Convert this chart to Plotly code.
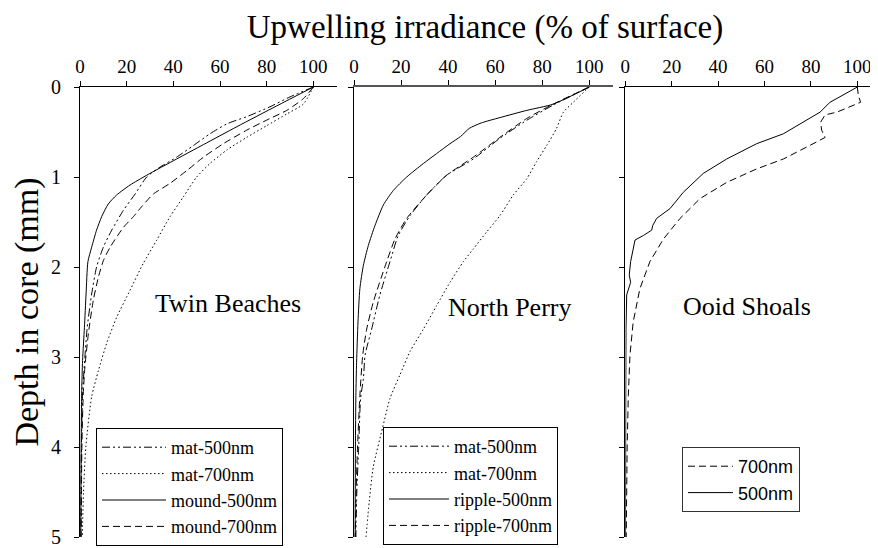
import plotly.graph_objects as go

# ---------------- data ----------------
# Twin Beaches
tb_mat500_x = [100, 90, 81.4, 71.4, 62.9, 55.7, 48.6, 41.4, 34.3, 28.6, 23.6, 18.6, 13.6, 10, 7.1, 5, 3.1, 2.0, 1.1, 0.6, 0.4]
tb_mat500_d = [0, 0.11, 0.22, 0.33, 0.41, 0.52, 0.65, 0.78, 0.89, 1.0, 1.19, 1.37, 1.59, 1.78, 2.0, 2.3, 2.67, 3.04, 3.41, 4.0, 5.0]

tb_mat700_x = [100, 95.7, 88.6, 80, 71.4, 62.9, 55.7, 50, 44.3, 38.6, 32.9, 27.1, 21.4, 15.7, 11.4, 7.9, 5, 2.5, 1.5, 1.0]
tb_mat700_d = [0, 0.19, 0.30, 0.43, 0.56, 0.70, 0.85, 1.0, 1.22, 1.44, 1.70, 1.96, 2.26, 2.56, 2.85, 3.15, 3.44, 4.0, 4.5, 5.0]

tb_mound500_x = [100, 84.3, 67.3, 52.9, 41.4, 28.6, 21.4, 15.7, 12.1, 9.3, 7.1, 5.0, 3.4, 2.6, 1.9, 1.1, 0.7, 0.5, 0.4, 0.3]
tb_mound500_d = [0, 0.21, 0.44, 0.64, 0.80, 0.98, 1.09, 1.20, 1.30, 1.44, 1.59, 1.78, 1.94, 2.30, 2.67, 3.04, 3.41, 4.0, 4.5, 5.0]

tb_mound700_x = [100, 95.7, 88.6, 81.4, 71.4, 61.4, 52.9, 45.7, 38.6, 31.4, 26.4, 22.9, 18.6, 12.9, 10, 7.9, 5.7, 3.6, 2.1, 1.4, 0.8, 0.5]
tb_mound700_d = [0, 0.13, 0.26, 0.35, 0.48, 0.63, 0.78, 0.93, 1.07, 1.19, 1.33, 1.44, 1.56, 1.78, 1.93, 2.11, 2.37, 2.74, 3.11, 3.41, 4.0, 5.0]

# North Perry
np_mat500_x = [100, 84.7, 73.4, 62, 50.7, 39.4, 30.9, 23.8, 18.8, 15.3, 11.0, 7.5, 4.7, 4.0, 2.8, 2.0, 1.2, 0.8]
np_mat500_d = [0, 0.20, 0.37, 0.57, 0.80, 0.98, 1.20, 1.43, 1.65, 1.94, 2.31, 2.69, 2.98, 3.24, 3.46, 4.0, 4.5, 5.0]

np_mat700_x = [100, 93.2, 89, 86.1, 81.9, 77.6, 73.4, 67.7, 62, 56.4, 50.7, 46.5, 40.8, 35.1, 29.5, 23.8, 19.5, 15.3, 12.2, 8.2, 6.5, 5.1]
np_mat700_d = [0, 0.17, 0.28, 0.46, 0.65, 0.83, 1.02, 1.20, 1.43, 1.61, 1.80, 1.94, 2.17, 2.43, 2.69, 2.94, 3.20, 3.46, 3.78, 4.22, 4.6, 5.0]

np_ripple500_x = [100, 84.7, 73.4, 62.0, 54.0, 49.0, 45.3, 40.8, 35.1, 29.5, 22.4, 16.7, 12.5, 8.9, 6.1, 4.0, 2.5, 1.7, 1.1, 0.8, 0.6, 0.5]
np_ripple500_d = [0, 0.19, 0.26, 0.34, 0.40, 0.46, 0.55, 0.63, 0.74, 0.85, 1.0, 1.15, 1.31, 1.54, 1.76, 1.98, 2.24, 2.61, 3.06, 3.43, 4.0, 5.0]

np_ripple700_x = [100, 84.7, 73.4, 62, 50.7, 39.4, 30.9, 22.4, 17.4, 13.9, 8.2, 5.4, 3.7, 2.5, 1.5, 0.9, 0.5]
np_ripple700_d = [0, 0.19, 0.35, 0.56, 0.78, 0.98, 1.20, 1.46, 1.69, 1.94, 2.39, 2.69, 2.98, 3.43, 4.0, 4.5, 5.0]

# Ooid Shoals
os_700_x = [100, 100.4, 101.4, 96.8, 91.1, 86.1, 84.2, 84.6, 86.1, 82.5, 76.7, 68.1, 56.6, 43.7, 32.2, 23.6, 16.4, 10.6, 6.3, 3.4, 2.0, 1.3, 0.8, 0.5, 0.4]
os_700_d = [0, 0.09, 0.17, 0.22, 0.28, 0.31, 0.39, 0.48, 0.56, 0.61, 0.69, 0.80, 0.91, 1.06, 1.24, 1.46, 1.69, 1.94, 2.24, 2.61, 2.98, 3.43, 4.0, 4.5, 5.0]

os_500_x = [100, 94, 88.2, 83.9, 76.7, 69.5, 68.1, 56.6, 43.7, 33.6, 25, 19.3, 17.1, 13.5, 11.8, 11.4, 7.8, 4.2, 3.4, 2.3, 1.7, 2.3, 0.6, 0.3, 0.2, 0.1, 0.1]
os_500_d = [0, 0.09, 0.17, 0.28, 0.39, 0.50, 0.52, 0.63, 0.80, 0.96, 1.17, 1.35, 1.39, 1.46, 1.54, 1.59, 1.65, 1.70, 1.80, 1.94, 2.09, 2.17, 2.31, 2.69, 3.5, 4.5, 5.0]

x_ticks = [0, 20, 40, 60, 80, 100]
y_ticks = [0, 1, 2, 3, 4, 5]
panel_names = ["Twin Beaches", "North Perry", "Ooid Shoals"]

# ---------------- styles ----------------
SERIF = "Liberation Serif"
SANS = "Liberation Sans"
DASHDOTDOT = "8px,3px,2px,3px,2px,3px"
DOT = "1.5px,2.5px"
DASH = "7px,4px"

fig = go.Figure()


def add(x, d, name, dash, xa, ya, legend, shape="spline"):
    fig.add_trace(go.Scatter(
        x=x, y=d, name=name, mode="lines", xaxis=xa, yaxis=ya, legend=legend,
        line=dict(color="black", width=1, dash=dash, shape=shape,
                  smoothing=0.6 if shape == "spline" else None),
        hoverinfo="skip"))


add(tb_mat500_x, tb_mat500_d, "mat-500nm", DASHDOTDOT, "x", "y", "legend")
add(tb_mat700_x, tb_mat700_d, "mat-700nm", DOT, "x", "y", "legend")
add(tb_mound500_x, tb_mound500_d, "mound-500nm", "solid", "x", "y", "legend")
add(tb_mound700_x, tb_mound700_d, "mound-700nm", DASH, "x", "y", "legend")

add(np_mat500_x, np_mat500_d, "mat-500nm", DASHDOTDOT, "x2", "y2", "legend2")
add(np_mat700_x, np_mat700_d, "mat-700nm", DOT, "x2", "y2", "legend2")
add(np_ripple500_x, np_ripple500_d, "ripple-500nm", "solid", "x2", "y2", "legend2")
add(np_ripple700_x, np_ripple700_d, "ripple-700nm", DASH, "x2", "y2", "legend2")

add(os_700_x, os_700_d, "700nm", DASH, "x3", "y3", "legend3", shape="linear")
add(os_500_x, os_500_d, "500nm", "solid", "x3", "y3", "legend3", shape="linear")

# The page body has an 8px margin, so the figure is drawn 8px in from the corner.
OFF = 8
W, H = 878 - OFF, 548 - OFF
PLOT_L, PLOT_R, PLOT_T, PLOT_B = 80, 878, 87, 537   # page pixels of the plot area
ML, MR, MT, MB = PLOT_L - OFF, 0, PLOT_T - OFF, (548 - PLOT_B)
PW = PLOT_R - PLOT_L
PH = PLOT_B - PLOT_T


def dom(a, b):
    return [(a - PLOT_L) / PW, min((b - PLOT_L) / PW, 1.0)]


def py(page_y):
    return (PLOT_B - page_y) / PH


doms = [dom(80, 336.7), dom(354, 612.8), dom(625.3, 878)]
ranges = [[0, 110], [0, 110], [0, 108.9]]

tickfont = dict(family=SERIF, size=19, color="black")
lay = dict(
    width=W, height=H,
    margin=dict(l=ML, r=MR, t=MT, b=MB, autoexpand=False),
    paper_bgcolor="white", plot_bgcolor="white",
    showlegend=True,
    title=dict(text="Upwelling irradiance (% of surface)",
               font=dict(family=SERIF, size=33, color="black"),
               x=(485 - PLOT_L) / PW, xref="paper", xanchor="center",
               y=1 - (26 - OFF) / H, yref="container", yanchor="middle"),
)

for i in range(3):
    sx = "" if i == 0 else str(i + 1)
    lay["xaxis" + sx] = dict(
        domain=doms[i], range=ranges[i], side="top", anchor="y" + sx,
        tickvals=x_ticks, ticks="outside", ticklen=5, tickcolor="black",
        showline=True, linecolor="black" if i != 1 else "#555",
        linewidth=1 if i != 1 else 1.5,
        showgrid=False, zeroline=False, tickfont=tickfont, fixedrange=True)
    lay["yaxis" + sx] = dict(
        domain=[0, 1], range=[5, 0], anchor="x" + sx,
        tickvals=y_ticks, ticks="outside", ticklen=5, tickcolor="black",
        showline=True, linecolor="black", linewidth=1,
        showgrid=False, zeroline=False, tickfont=dict(family=SERIF, size=20, color="black"),
        showticklabels=(i == 0), ticklabelstandoff=9, fixedrange=True)

lay["yaxis"]["title"] = dict(text="Depth in core (mm)",
                             font=dict(family=SERIF, size=34, color="black"),
                             standoff=16)

legfont = dict(family=SERIF, size=18, color="black")
lay["legend"] = dict(x=(96 - PLOT_L) / PW, y=py(428), xanchor="left", yanchor="top",
                     bordercolor="black", borderwidth=1, bgcolor="white",
                     font=legfont, itemwidth=64, traceorder="normal")
lay["legend2"] = dict(x=(383 - PLOT_L) / PW, y=py(427), xanchor="left", yanchor="top",
                      bordercolor="black", borderwidth=1, bgcolor="white",
                      font=legfont, itemwidth=60, traceorder="normal")
lay["legend3"] = dict(x=(682 - PLOT_L) / PW, y=py(447), xanchor="left", yanchor="top",
                      bordercolor="#333", borderwidth=1, bgcolor="white",
                      font=dict(family=SANS, size=18, color="black"),
                      itemwidth=45, traceorder="normal")

fig.update_layout(**lay)

# panel labels
label_pos = [("x", "y", 63.4, 2.4), ("x2", "y2", 65.9, 2.45), ("x3", "y3", 52.3, 2.44)]
for name, (xr, yr, xv, yv) in zip(panel_names, label_pos):
    fig.add_annotation(text=name, x=xv, y=yv, xref=xr, yref=yr, showarrow=False,
                       font=dict(family=SERIF, size=26, color="black"),
                       xanchor="center", yanchor="middle")

fig.write_html("out.html", config={"displayModeBar": False})
